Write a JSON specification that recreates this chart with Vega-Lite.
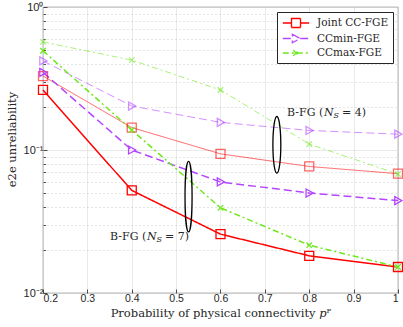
{
  "$schema": "https://vega.github.io/schema/vega-lite/v6.json",
  "width": 355,
  "height": 286,
  "autosize": "none",
  "padding": {"left": 43, "top": 7, "right": 5, "bottom": 34},
  "background": "white",
  "config": {
    "view": {"stroke": "#262626", "strokeWidth": 0.8},
    "axis": {"domainColor": "#262626", "tickColor": "#262626", "labelColor": "#262626", "titleColor": "#262626"},
    "legend": {"labelFont": "DejaVu Serif", "labelFontSize": 10.5}
  },
  "datasets": {
    "main": [
      {"method": "Joint CC-FGE", "ns": "4", "p": 0.2, "v": 0.329},
      {"method": "Joint CC-FGE", "ns": "4", "p": 0.4, "v": 0.1435},
      {"method": "Joint CC-FGE", "ns": "4", "p": 0.6, "v": 0.094},
      {"method": "Joint CC-FGE", "ns": "4", "p": 0.8, "v": 0.0767},
      {"method": "Joint CC-FGE", "ns": "4", "p": 1.0, "v": 0.0683},
      {"method": "Joint CC-FGE", "ns": "7", "p": 0.2, "v": 0.263},
      {"method": "Joint CC-FGE", "ns": "7", "p": 0.4, "v": 0.0522},
      {"method": "Joint CC-FGE", "ns": "7", "p": 0.6, "v": 0.0258},
      {"method": "Joint CC-FGE", "ns": "7", "p": 0.8, "v": 0.0182},
      {"method": "Joint CC-FGE", "ns": "7", "p": 1.0, "v": 0.0152},
      {"method": "CCmin-FGE", "ns": "4", "p": 0.2, "v": 0.42},
      {"method": "CCmin-FGE", "ns": "4", "p": 0.4, "v": 0.203},
      {"method": "CCmin-FGE", "ns": "4", "p": 0.6, "v": 0.156},
      {"method": "CCmin-FGE", "ns": "4", "p": 0.8, "v": 0.137},
      {"method": "CCmin-FGE", "ns": "4", "p": 1.0, "v": 0.129},
      {"method": "CCmin-FGE", "ns": "7", "p": 0.2, "v": 0.349},
      {"method": "CCmin-FGE", "ns": "7", "p": 0.4, "v": 0.1},
      {"method": "CCmin-FGE", "ns": "7", "p": 0.6, "v": 0.0598},
      {"method": "CCmin-FGE", "ns": "7", "p": 0.8, "v": 0.05},
      {"method": "CCmin-FGE", "ns": "7", "p": 1.0, "v": 0.0443},
      {"method": "CCmax-FGE", "ns": "4", "p": 0.2, "v": 0.57},
      {"method": "CCmax-FGE", "ns": "4", "p": 0.4, "v": 0.425},
      {"method": "CCmax-FGE", "ns": "4", "p": 0.6, "v": 0.263},
      {"method": "CCmax-FGE", "ns": "4", "p": 0.8, "v": 0.11},
      {"method": "CCmax-FGE", "ns": "4", "p": 1.0, "v": 0.068},
      {"method": "CCmax-FGE", "ns": "7", "p": 0.2, "v": 0.494},
      {"method": "CCmax-FGE", "ns": "7", "p": 0.4, "v": 0.138},
      {"method": "CCmax-FGE", "ns": "7", "p": 0.6, "v": 0.0394},
      {"method": "CCmax-FGE", "ns": "7", "p": 0.8, "v": 0.0216},
      {"method": "CCmax-FGE", "ns": "7", "p": 1.0, "v": 0.0152}
    ],
    "ann": [
      {"ns": "4", "tp": 0.75, "tv": 0.1816, "ep": 0.727, "ev": 0.1087, "tail": "= 4)"},
      {"ns": "7", "tp": 0.351, "tv": 0.0248, "ep": 0.528, "ev": 0.0472, "tail": "= 7)"}
    ]
  },
  "layer": [
    {
      "data": {"name": "main"},
      "mark": {"type": "line", "clip": false},
      "encoding": {
        "x": {
          "field": "p", "type": "quantitative",
          "scale": {"domain": [0.2, 1], "nice": false, "zero": false},
          "axis": {
            "values": [0.2, 0.3, 0.4, 0.5, 0.6, 0.7, 0.8, 0.9, 1],
            "format": "~g",
            "title": "Probability of physical connectivity 𝑝ᴾ",
            "titleFont": "DejaVu Serif", "titleFontWeight": "normal", "titleFontSize": 11.5,
            "titlePadding": 4,
            "labelFont": "Liberation Sans", "labelFontSize": 10.5, "labelPadding": 4,
            "tickSize": -4, "tickWidth": 0.8,
            "grid": true, "gridColor": "#e3e3e3", "gridWidth": 0.8,
            "domain": false
          }
        },
        "y": {
          "field": "v", "type": "quantitative",
          "scale": {"type": "log", "domain": [0.01, 1], "nice": false},
          "axis": {
            "values": [0.01, 0.02, 0.03, 0.04, 0.05, 0.06, 0.07, 0.08, 0.09, 0.1, 0.2, 0.3, 0.4, 0.5, 0.6, 0.7, 0.8, 0.9, 1],
            "labelExpr": "datum.value == 1 ? '10⁰' : (abs(datum.value - 0.1) < 1e-9 ? '10⁻¹' : (abs(datum.value - 0.01) < 1e-9 ? '10⁻²' : ''))",
            "title": "e2e unreliability",
            "titleFont": "DejaVu Serif", "titleFontWeight": "normal", "titleFontSize": 11.5,
            "titleY": 132, "titleX": -31, "titleAngle": -90, "titleBaseline": "middle", "titleAlign": "center",
            "labelFont": "Liberation Sans", "labelFontSize": 11, "labelPadding": 4,
            "tickSize": {"condition": {"test": "abs(log(datum.value)/log(10) - round(log(datum.value)/log(10))) < 1e-6", "value": -4}, "value": -2.5},
            "tickWidth": 0.8,
            "grid": true,
            "gridColor": {"condition": {"test": "abs(log(datum.value)/log(10) - round(log(datum.value)/log(10))) < 1e-6", "value": "#e3e3e3"}, "value": "#bdbdbd"},
            "gridDash": {"condition": {"test": "abs(log(datum.value)/log(10) - round(log(datum.value)/log(10))) < 1e-6", "value": []}, "value": [1, 3]},
            "gridWidth": 0.8,
            "domain": false
          }
        },
        "color": {
          "field": "method", "type": "nominal",
          "scale": {"domain": ["Joint CC-FGE", "CCmin-FGE", "CCmax-FGE"], "range": ["#ff0000", "#b545ff", "#6ee81c"]},
          "legend": {
            "title": null,
            "orient": "top-right",
            "offset": 5,
            "fillColor": "white",
            "strokeColor": "#262626",
            "padding": 4,
            "labelFont": "DejaVu Serif", "labelFontSize": 10.5, "labelColor": "#262626",
            "labelOffset": 14,
            "symbolOffset": 8,
            "rowPadding": 0.5,
            "symbolSize": 144,
            "symbolStrokeWidth": 1.3,
            "encode": {
              "symbols": {
                "update": {
                  "shape": {"signal": "datum.value == 'Joint CC-FGE' ? 'M-2.2,0L-0.75,0M0.75,0L2.2,0M-0.75,-0.75L0.75,-0.75L0.75,0.75L-0.75,0.75Z' : (datum.value == 'CCmin-FGE' ? 'M-2.2,0L-0.6,0M0.7,0L2.2,0M-0.6,-0.7L0.7,0L-0.6,0.7Z' : 'M-2.2,0L2.2,0M-0.45,-0.45L0.45,0.45M-0.45,0.45L0.45,-0.45')"},
                  "fill": {"value": "transparent"},
                  "stroke": {"scale": "color", "field": "value"},
                  "strokeDash": {"value": [1, 0]},
                  "strokeWidth": {"value": 1.3},
                  "opacity": {"value": 1}
                }
              }
            }
          }
        },
        "strokeDash": {
          "field": "method", "type": "nominal",
          "scale": {"domain": ["Joint CC-FGE", "CCmin-FGE", "CCmax-FGE"], "range": [[1, 0], [8, 4], [6, 3, 2, 3]]},
          "legend": null
        },
        "opacity": {
          "field": "ns", "type": "nominal",
          "scale": {"domain": ["4", "7"], "range": [0.6, 1]},
          "legend": null
        },
        "strokeWidth": {
          "field": "ns", "type": "nominal",
          "scale": {"domain": ["4", "7"], "range": [1.0, 1.5]},
          "legend": null
        },
        "detail": {"field": "ns"}
      }
    },
    {
      "data": {"name": "main"},
      "transform": [{"filter": "datum.method == 'Joint CC-FGE'"}],
      "mark": {"type": "point", "filled": false, "clip": false, "strokeWidth": 1.3, "shape": "M-1,-1L1,-1L1,1L-1,1Z", "size": 81, "stroke": "#ff0000"},
      "encoding": {
        "x": {"field": "p", "type": "quantitative"},
        "y": {"field": "v", "type": "quantitative"},
        "opacity": {"field": "ns", "type": "nominal", "legend": null}
      }
    },
    {
      "data": {"name": "main"},
      "transform": [{"filter": "datum.method == 'CCmin-FGE'"}],
      "mark": {"type": "point", "filled": false, "clip": false, "strokeWidth": 1.3, "shape": "M-0.8,-1L1,0L-0.8,1Z", "size": 64, "stroke": "#b545ff"},
      "encoding": {
        "x": {"field": "p", "type": "quantitative"},
        "y": {"field": "v", "type": "quantitative"},
        "opacity": {"field": "ns", "type": "nominal", "legend": null}
      }
    },
    {
      "data": {"name": "main"},
      "transform": [{"filter": "datum.method == 'CCmax-FGE'"}],
      "mark": {"type": "point", "filled": false, "clip": false, "strokeWidth": 1.3, "shape": "M-1,-1L1,1M-1,1L1,-1", "size": 30, "stroke": "#6ee81c"},
      "encoding": {
        "x": {"field": "p", "type": "quantitative"},
        "y": {"field": "v", "type": "quantitative"},
        "opacity": {"field": "ns", "type": "nominal", "legend": null}
      }
    },
    {
      "data": {"name": "ann"},
      "transform": [{"filter": "datum.ns == '4'"}],
      "mark": {"type": "point", "shape": "M0,-1A0.14,1 0 1,1 0,1A0.14,1 0 1,1 0,-1Z", "size": 3204, "filled": false, "color": "black", "strokeWidth": 1.3, "opacity": 1},
      "encoding": {"x": {"field": "ep", "type": "quantitative"}, "y": {"field": "ev", "type": "quantitative"}}
    },
    {
      "data": {"name": "ann"},
      "transform": [{"filter": "datum.ns == '7'"}],
      "mark": {"type": "point", "shape": "M0,-1A0.1,1 0 1,1 0,1A0.1,1 0 1,1 0,-1Z", "size": 4985, "filled": false, "color": "black", "strokeWidth": 1.3, "opacity": 1},
      "encoding": {"x": {"field": "ep", "type": "quantitative"}, "y": {"field": "ev", "type": "quantitative"}}
    },
    {
      "data": {"name": "ann"},
      "mark": {"type": "text", "text": "B-FG (", "align": "left", "baseline": "middle", "font": "DejaVu Serif", "fontSize": 11, "color": "#262626"},
      "encoding": {"x": {"field": "tp", "type": "quantitative"}, "y": {"field": "tv", "type": "quantitative"}}
    },
    {
      "data": {"name": "ann"},
      "mark": {"type": "text", "text": "N", "align": "left", "baseline": "middle", "font": "DejaVu Serif", "fontStyle": "italic", "fontSize": 11, "dx": 37, "color": "#262626"},
      "encoding": {"x": {"field": "tp", "type": "quantitative"}, "y": {"field": "tv", "type": "quantitative"}}
    },
    {
      "data": {"name": "ann"},
      "mark": {"type": "text", "text": "S", "align": "left", "baseline": "middle", "font": "DejaVu Serif", "fontStyle": "italic", "fontSize": 8, "dx": 46.5, "dy": 3, "color": "#262626"},
      "encoding": {"x": {"field": "tp", "type": "quantitative"}, "y": {"field": "tv", "type": "quantitative"}}
    },
    {
      "data": {"name": "ann"},
      "mark": {"type": "text", "align": "left", "baseline": "middle", "font": "DejaVu Serif", "fontSize": 11, "dx": 55, "color": "#262626"},
      "encoding": {"x": {"field": "tp", "type": "quantitative"}, "y": {"field": "tv", "type": "quantitative"}, "text": {"field": "tail"}}
    }
  ]
}
